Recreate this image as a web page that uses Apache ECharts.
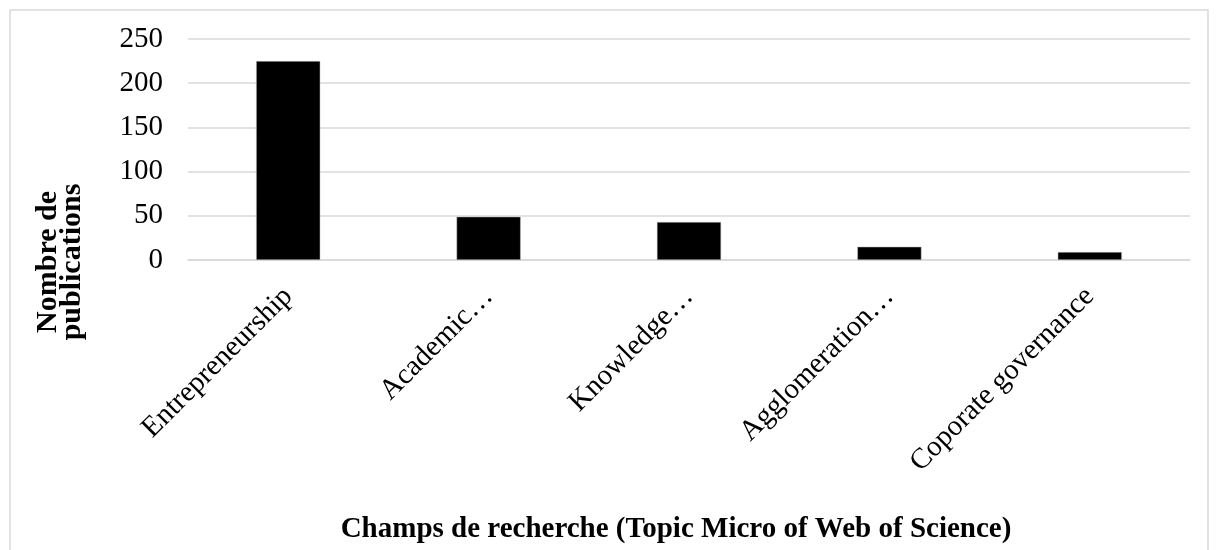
<!DOCTYPE html>
<html>
<head>
<meta charset="utf-8">
<script src="https://cdn.jsdelivr.net/npm/echarts@6/dist/echarts.min.js"></script>
<style>
html, body { margin: 0; padding: 0; background: #fff; }
#chart { width: 1216px; height: 550px; }
</style>
</head>
<body>
<div id="chart"></div>
<script>
// Nombre de publications par champ de recherche
var categories = ['Entrepreneurship', 'Academic…', 'Knowledge…', 'Agglomeration…', 'Coporate governance'];
var publications = [225, 49, 43, 15, 9];
var yTicks = { min: 0, max: 250, interval: 50 };

var font = '"Liberation Serif", "Times New Roman", serif';
var chart = echarts.init(document.getElementById('chart'));
var option = {
    animation: false,
    grid: {
        left: 188,
        right: 26,
        top: 39,
        bottom: 290
    },
    graphic: [
        {
            type: 'rect',
            shape: { x: 10, y: 10, width: 1198, height: 580 },
            style: { fill: 'none', stroke: '#d9d9d9', lineWidth: 1.5 },
            silent: true
        },
        {
            type: 'text',
            x: 60,
            y: 262,
            rotation: Math.PI / 2,
            style: {
                text: 'Nombre de\npublications',
                font: 'bold 30px ' + font,
                fill: '#000',
                align: 'center',
                verticalAlign: 'middle',
                lineHeight: 24
            }
        },
        {
            type: 'text',
            x: 676,
            y: 530,
            style: {
                text: 'Champs de recherche (Topic Micro of Web of Science)',
                font: 'bold 29px ' + font,
                fill: '#000',
                align: 'center',
                verticalAlign: 'middle'
            }
        }
    ],
    xAxis: {
        type: 'category',
        data: categories,
        axisTick: { show: false },
        axisLine: { lineStyle: { color: '#d9d9d9', width: 1.5 } },
        axisLabel: {
            rotate: 45,
            margin: 32,
            interval: 0,
            color: '#000',
            fontFamily: font,
            fontSize: 29
        }
    },
    yAxis: {
        type: 'value',
        min: yTicks.min,
        max: yTicks.max,
        interval: yTicks.interval,
        axisLine: { show: false },
        axisTick: { show: false },
        axisLabel: {
            margin: 25,
            color: '#000',
            fontFamily: font,
            fontSize: 29
        },
        splitLine: { lineStyle: { color: '#d9d9d9', width: 1.5 } }
    },
    series: [
        {
            type: 'bar',
            data: publications,
            barWidth: '32%',
            itemStyle: {
                color: '#000',
                borderColor: '#bfbfbf',
                borderWidth: 0.5
            }
        }
    ]
};
chart.setOption(option);
</script>
</body>
</html>
